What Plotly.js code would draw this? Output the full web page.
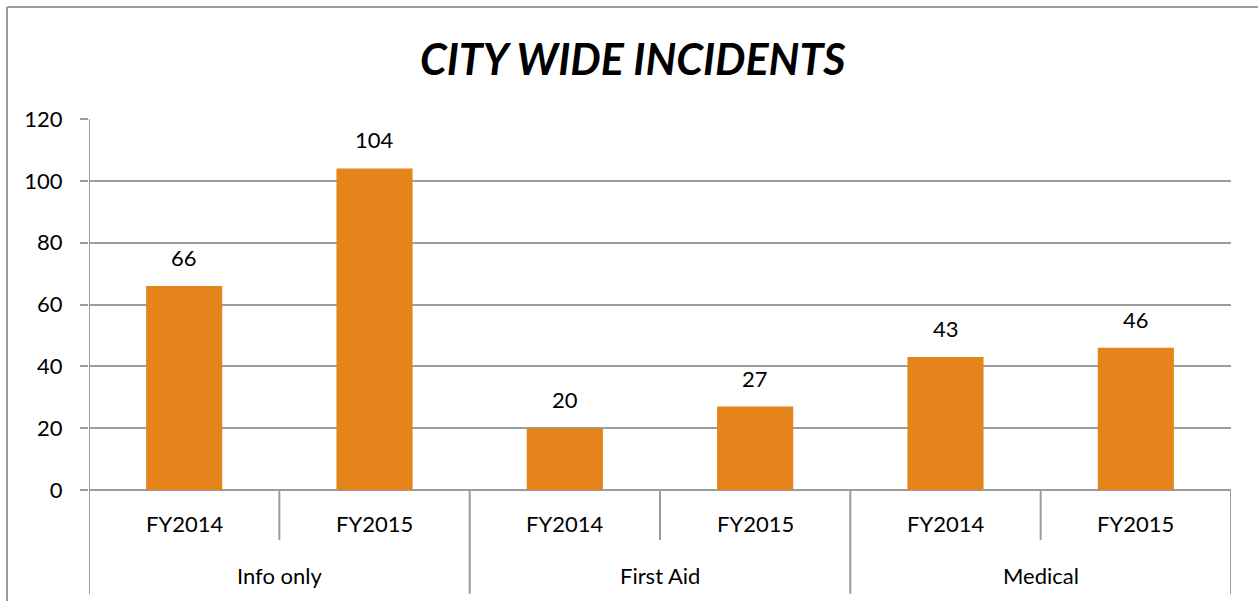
<!DOCTYPE html>
<html>
<head>
<meta charset="utf-8">
<script src="https://cdn.plot.ly/plotly-3.0.1.min.js"></script>
<style>
html,body{margin:0;padding:0;background:#fff;}
#chart{width:1258px;height:601px;}
</style>
</head>
<body>
<div id="chart"></div>
<script>
const groups = ["Info only", "First Aid", "Medical"];
const years = ["FY2014", "FY2015"];
const values = [66, 104, 20, 27, 43, 46];
const title = "CITY WIDE INCIDENTS";
const yTicks = [0, 20, 40, 60, 80, 100, 120];

const FONT = "Lato, 'Open Sans', sans-serif";
const GRAY = "#9c9c9c";
const n = groups.length * years.length;
const idx = values.map((v, i) => i);
const inner = idx.map(i => years[i % years.length]);

const shapes = [];
// chart border (top and left visible)
shapes.push({type:"line", xref:"paper", yref:"paper", x0:-0.0718, x1:1.05, y0:1.302, y1:1.302, line:{color:GRAY, width:2}});
shapes.push({type:"line", xref:"paper", yref:"paper", x0:-0.0718, x1:-0.0718, y0:1.302, y1:-0.4, line:{color:GRAY, width:2}});
// y axis line extending down through category labels
shapes.push({type:"line", xref:"x", yref:"paper", x0:-0.5, x1:-0.5, y0:1, y1:-0.28, line:{color:GRAY, width:2}});
// separators
for (let i = 1; i <= n; i++) {
  const isOuter = i % years.length === 0;
  shapes.push({type:"line", xref:"x", yref:"paper", x0:i-0.5, x1:i-0.5, y0:0, y1:isOuter ? -0.28 : -0.135, line:{color:GRAY, width:2}});
}

const annotations = [];
idx.forEach(i => {
  annotations.push({x:i, y:values[i], xref:"x", yref:"y", text:String(values[i]), showarrow:false, yanchor:"bottom", yshift:13, font:{family:FONT, size:22, color:"#000"}});
  annotations.push({x:i, y:-0.09, xref:"x", yref:"paper", text:inner[i], showarrow:false, yanchor:"middle", font:{family:FONT, size:22, color:"#000"}});
});
groups.forEach((g, k) => {
  annotations.push({x:k*years.length + (years.length-1)/2, y:-0.23, xref:"x", yref:"paper", text:g, showarrow:false, yanchor:"middle", font:{family:FONT, size:22, color:"#000"}});
});

const trace = {
  type:"bar",
  x: idx,
  y: values,
  width: 0.4,
  marker:{color:"#E5841A"},
  hoverinfo:"skip"
};

const layout = {
  width:1258, height:601,
  margin:{l:89, r:27, t:119, b:111},
  paper_bgcolor:"#fff", plot_bgcolor:"#fff",
  showlegend:false,
  title:{text:"<b><i>"+title+"</i></b>", x:0.503, xanchor:"center", y:0.9, yanchor:"middle", yref:"container", font:{family:FONT, size:43, color:"#000"}},
  xaxis:{range:[-0.5, n-0.5], showticklabels:false, showgrid:false, zeroline:false, ticks:"", showline:false, fixedrange:true},
  yaxis:{range:[0,120], tickvals:yTicks, ticks:"outside", ticklen:8, tickwidth:2, tickcolor:GRAY,
         showgrid:true, gridcolor:GRAY, gridwidth:2, zeroline:true, zerolinecolor:GRAY, zerolinewidth:2,
         showline:false, ticklabelstandoff:13, tickfont:{family:FONT, size:22, color:"#000"}, fixedrange:true},
  shapes: shapes,
  annotations: annotations
};

Plotly.newPlot("chart", [trace], layout, {displayModeBar:false, staticPlot:true});
</script>
</body>
</html>
